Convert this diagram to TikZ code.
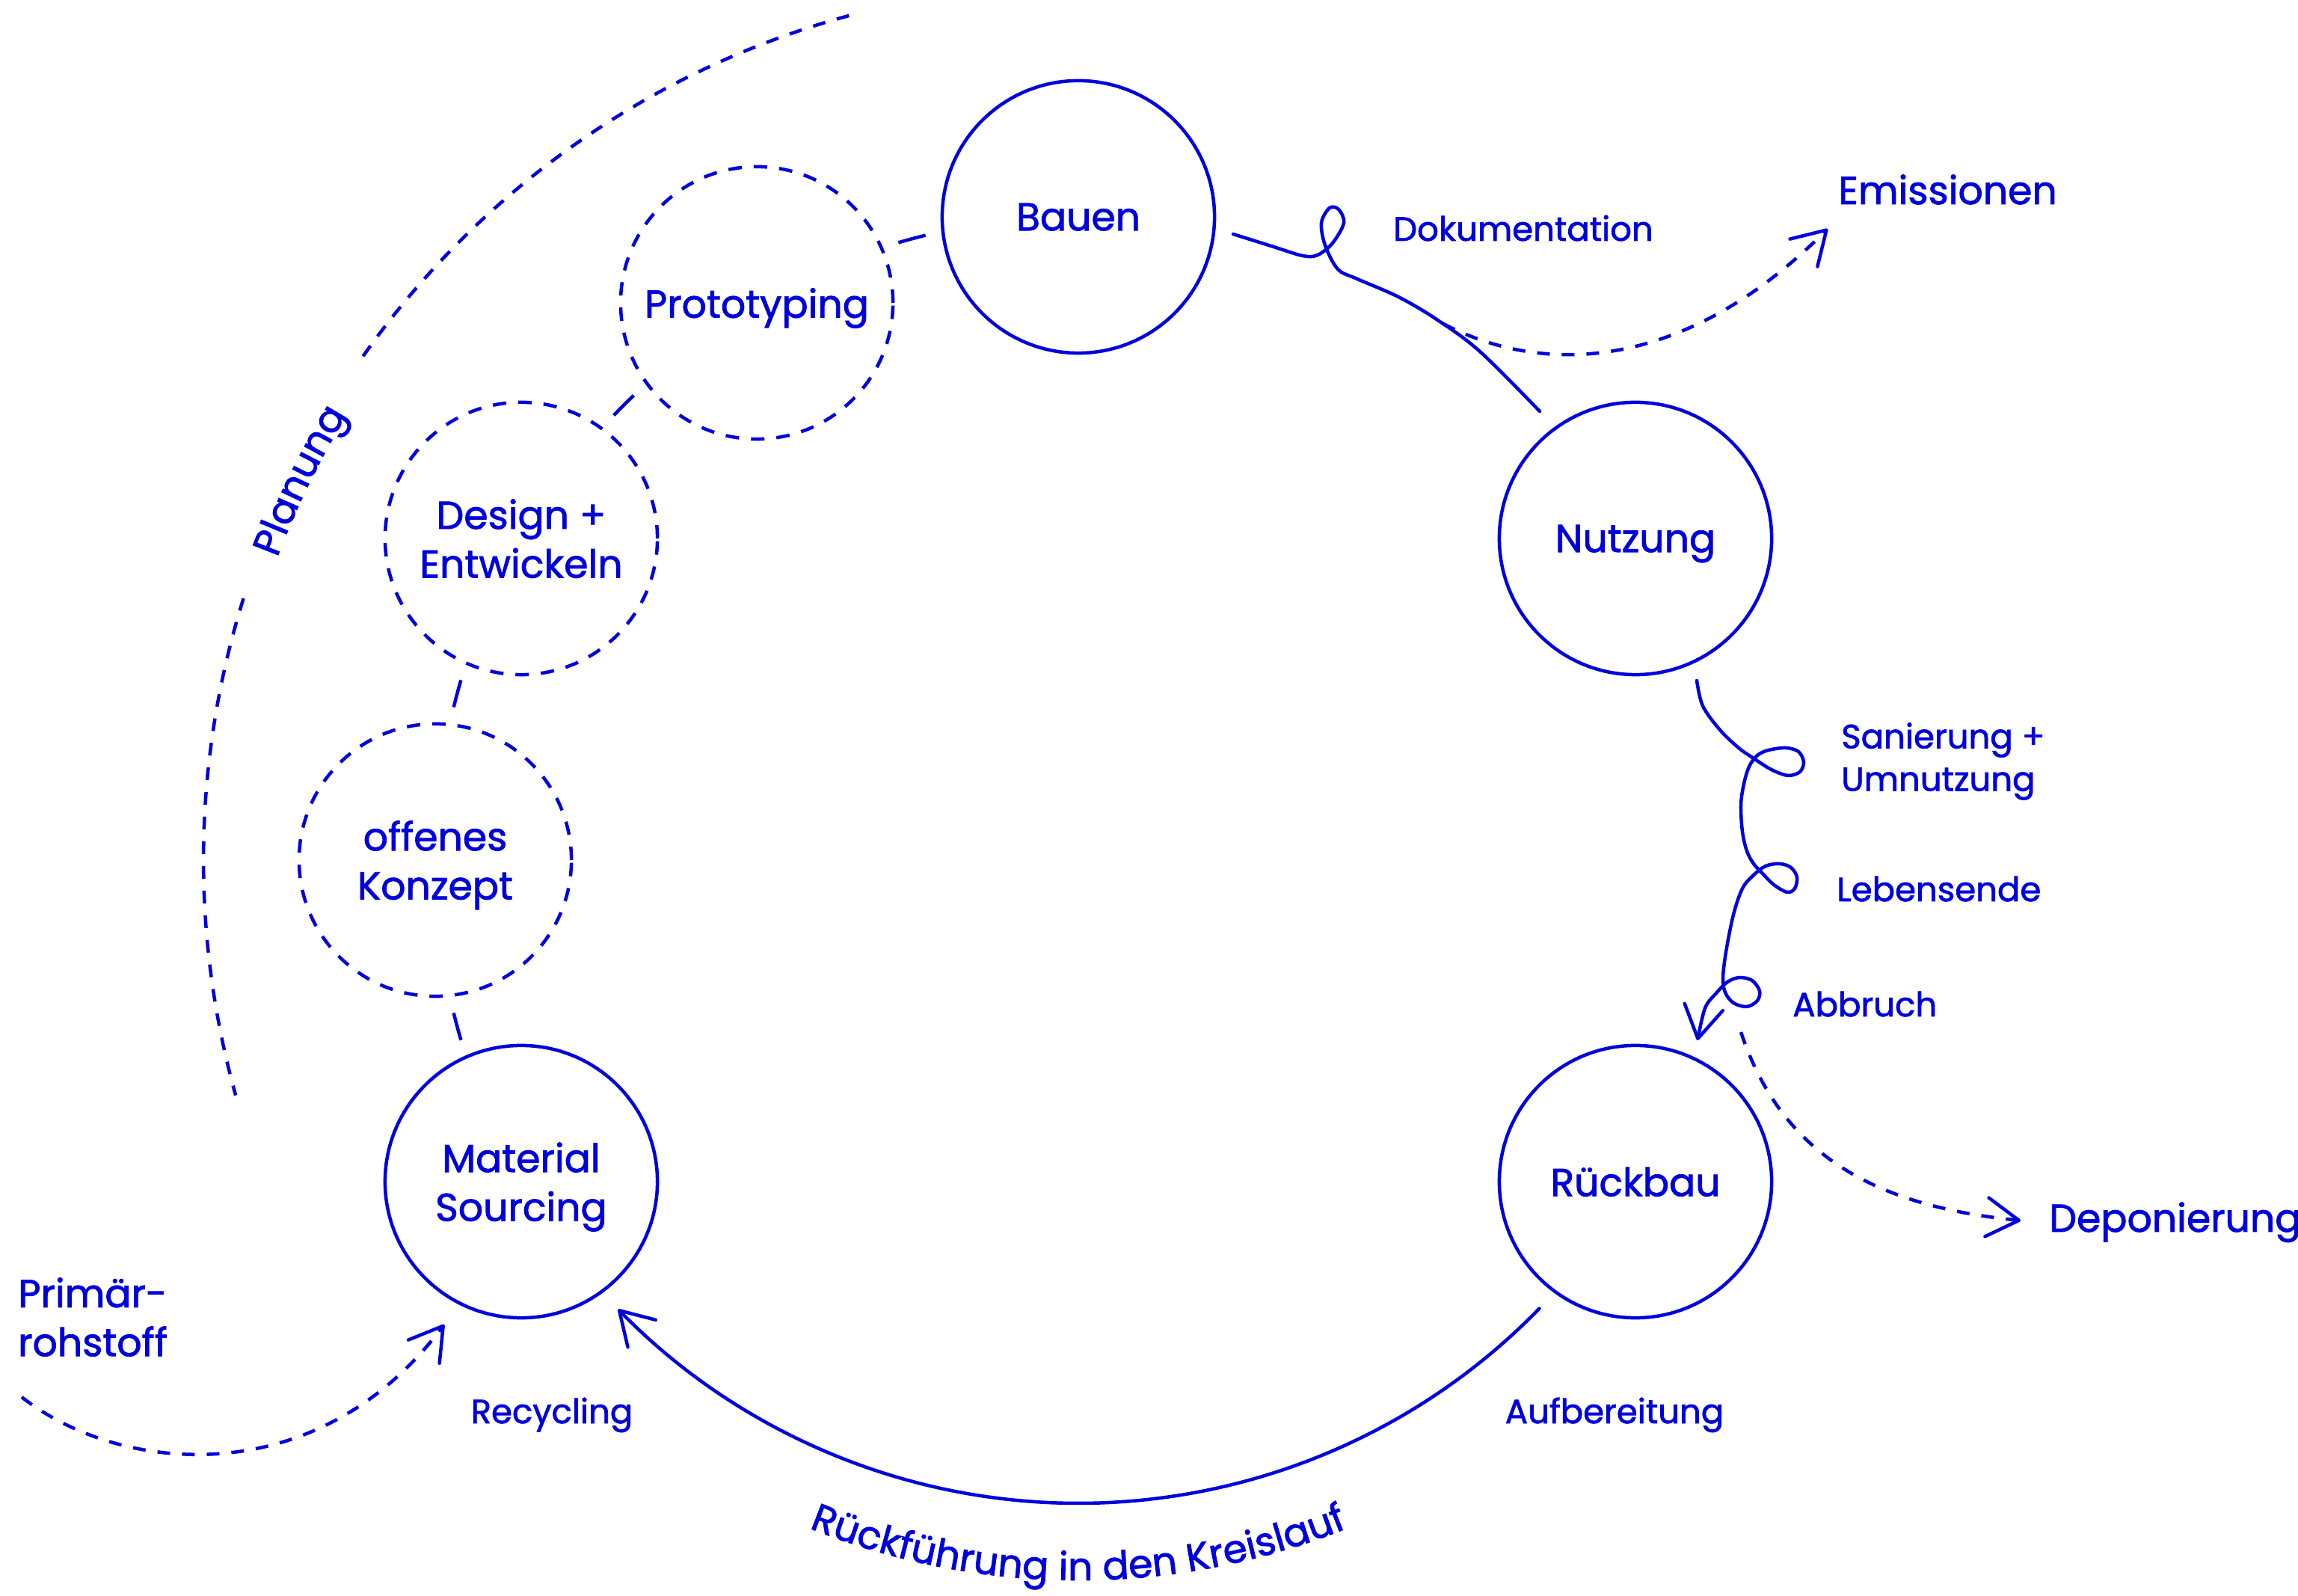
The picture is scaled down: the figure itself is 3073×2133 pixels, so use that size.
\documentclass[tikz,border=0pt]{standalone}
\usepackage{fontspec}
\setmainfont{Poppins}[FakeBold=1.6]
\usetikzlibrary{arrows.meta,decorations.text}
\definecolor{ink}{RGB}{0,0,221}
\newcommand\bigf{\fontsize{14.8pt}{18.6pt}\selectfont}
\newcommand\smallf{\fontsize{12.8pt}{16.2pt}\selectfont}
\begin{document}
\begin{tikzpicture}[x=0.01cm,y=0.01cm,line width=0.045cm,color=ink,
  >={Straight Barb[length=0.43cm,width=0.52cm,round]},
  stage/.style={circle,draw,minimum size=3.64cm,inner sep=0pt,align=center,font=\bigf,text=ink,text depth=0pt},
  planstage/.style={stage,dash pattern=on 0.18cm off 0.16cm},
  dsh/.style={dash pattern=on 0.17cm off 0.16cm},
  lbl/.style={font=\smallf,text=ink,inner sep=0pt},
  biglbl/.style={font=\bigf,text=ink,inner sep=0pt},
  curly/.style={line cap=round,line join=round}]
\useasboundingbox (0,0) rectangle (3073,2133);
\coordinate (C) at (1442,983);
% stages
\node[stage] (bauen) at (1442,1843) {Bauen};
\node[stage] (nutz) at (2187,1413) {Nutzung};
\node[stage] (rueck) at (2187,553) {Rückbau};
\node[stage] (mat) at (697,553) {Material\\Sourcing};
\node[planstage] (konz) at (582,983) {offenes\\Konzept};
\node[planstage] (design) at (697,1413) {Design +\\Entwickeln};
\node[planstage] (proto) at (1012,1728) {Prototyping};
% planning links (single dashes on the cycle between the stages)
\foreach \a in {105,135,165,195}
  \draw (C) ++(\a-1.25:860) arc[start angle=\a-1.25,end angle=\a+1.25,radius=860];
% Planung arcs
\draw[dsh] (C) ++(105.2:1170) arc[start angle=105.2,end angle=145.1,radius=1170];
\draw[dsh] (C) ++(162.6:1170) arc[start angle=162.6,end angle=195.6,radius=1170];
\path[decorate,decoration={text along path,text={|\bigf\color{ink}|Planung},text align=center}]
  (C) ++(164:1145) arc[start angle=164,end angle=144,radius=1145];
% return arc
\draw[->,line cap=round] (C) ++(-44.2:860) arc[start angle=-44.2,end angle=-135.7,radius=860];
\path[decorate,decoration={text along path,text={|\bigf\color{ink}|Rückführung in den Kreislauf},text align=center}]
  (C) ++(-115:963) arc[start angle=-115,end angle=-65,radius=963];
% Bauen -> Nutzung with loop
\draw[curly] plot[smooth,tension=0.55] coordinates {(1649,1820) (1700,1804) (1742,1791) (1762,1792) (1782,1808) (1797,1835) (1790,1853) (1778,1855) (1767,1835) (1772,1805) (1789,1773) (1815,1760) (1870,1736) (1921,1706) (1979,1663) (2059,1583)};
% Nutzung -> Rueckbau with loops
\draw[curly,->] plot[smooth,tension=0.55] coordinates {(2269,1223) (2277,1189) (2300,1157) (2325,1133) (2345,1119) (2365,1106) (2380,1099) (2393,1096) (2407,1101) (2412,1114) (2405,1128) (2388,1133) (2365,1130) (2350,1123) (2339,1108) (2332,1085) (2328,1057) (2330,1021) (2336,995) (2345,978) (2357,965) (2372,950) (2390,940) (2400,945) (2403,960) (2395,973) (2380,978) (2361,975) (2344,962) (2330,945) (2318,910) (2308,860) (2304,825) (2307,806) (2318,792) (2336,787) (2350,795) (2353,808) (2343,822) (2326,826) (2310,820) (2295,805) (2280,785) (2270,742)};
% dashed side arrows
\coordinate (e0) at (1930,1700);
\coordinate (e1) at (2444,1827);
\draw[dsh,->] (e0) .. controls (2081,1622) and (2267,1650) .. (e1);
\coordinate (d0) at (2328,753);
\coordinate (d1) at (2702,501);
\draw[dsh,->] (d0) .. controls (2382,591) and (2503,521) .. (d1);
\coordinate (p0) at (29,265);
\coordinate (p1) at (594,362);
\draw[dsh,->] (p0) .. controls (163,160) and (426,138) .. (p1);
% labels
\node[biglbl,anchor=base west] (emis) at (2456,1860) {Emissionen};
\node[lbl,anchor=base west] (doku) at (1861,1811) {Dokumentation};
\node[lbl,anchor=west,align=left] (sani) at (2460,1115) {Sanierung +\\Umnutzung};
\node[lbl,anchor=base west] (leben) at (2454,928) {Lebensende};
\node[lbl,anchor=base west] (abb) at (2395,774) {Abbruch};
\node[biglbl,anchor=base west] (depo) at (2738,486) {Deponierung};
\node[biglbl,align=center] (prim) at (124,372) {Primär-\\rohstoff};
\node[lbl,anchor=base] (recy) at (738,230) {Recycling};
\node[lbl,anchor=base] (aufb) at (2159,230) {Aufbereitung};
\end{tikzpicture}
\end{document}
